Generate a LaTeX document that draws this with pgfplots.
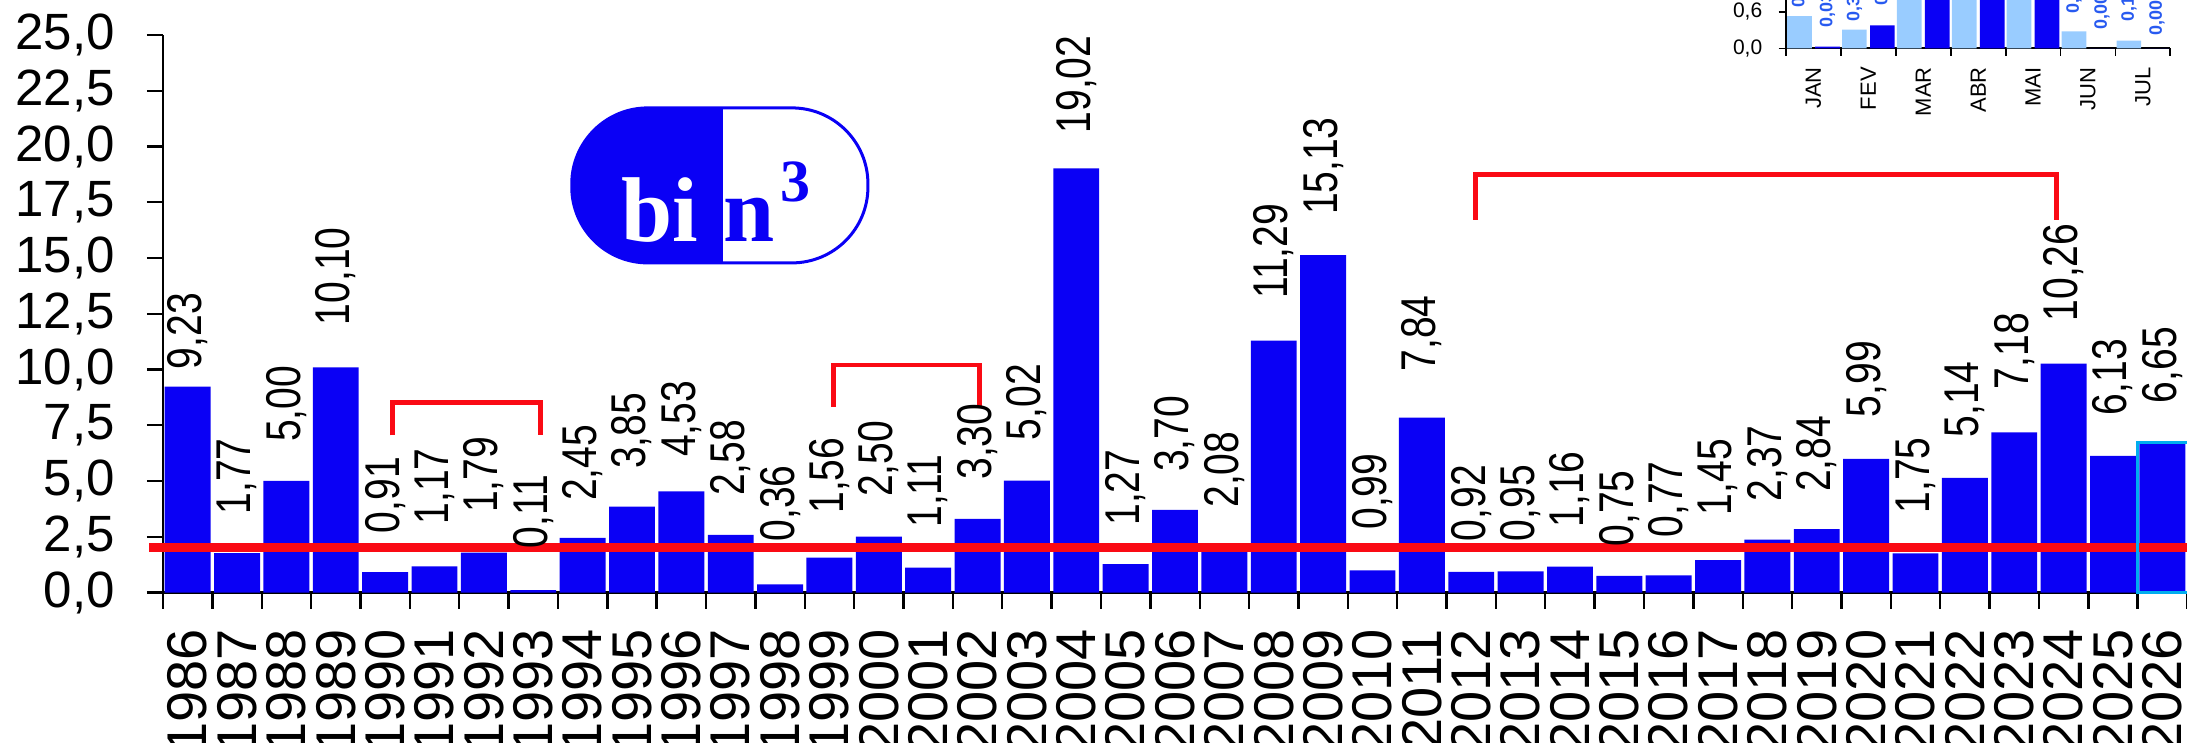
\documentclass[border=0pt]{standalone}
\usepackage{pgfplots}
\pgfplotsset{compat=1.18}
\usepackage{pgfplotstable}
\usepackage{fontspec}
\setmainfont{Liberation Sans}
\newfontfamily\narrowfont[FakeStretch=0.8]{Liberation Sans}
\newfontfamily\logofont{Liberation Serif}

\definecolor{barblue}{RGB}{10,0,245}
\definecolor{lightbar}{RGB}{153,204,255}
\definecolor{linered}{RGB}{250,10,20}
\definecolor{lblblue}{RGB}{40,90,240}

% x = year index (1986 = 0), ly = where the label starts, v = value
\pgfplotstableread{
x  ly    v
0  10.00 9.23
1  3.48  1.77
2  6.74  5.00
3  11.97 10.10
4  2.65  0.91
5  3.03  1.17
6  3.56  1.79
7  1.97  0.11
8  4.09  2.45
9  5.53  3.85
10 6.06  4.53
11 4.32  2.58
12 2.27  0.36
13 3.52  1.56
14 4.27  2.50
15 2.89  1.11
16 5.04  3.30
17 6.82  5.02
18 20.57 19.02
19 2.98  1.27
20 5.39  3.70
21 3.79  2.08
22 13.16 11.29
23 16.91 15.13
24 2.80  0.99
25 9.90  7.84
26 2.28  0.92
27 2.28  0.95
28 2.90  1.16
29 2.05  0.75
30 2.45  0.77
31 3.45  1.45
32 4.07  2.37
33 4.50  2.84
34 7.84  5.99
35 3.53  1.75
36 6.94  5.14
37 9.10  7.18
38 12.14 10.26
39 7.93  6.13
40 8.47  6.65
}\yearly

% inset: months, two series
\pgfplotstableread{
x a    b
0 0.53 0.03
1 0.31 0.38
2 1.00 1.00
3 1.00 1.00
4 1.00 1.00
5 0.28 0.00
6 0.13 0.00
}\monthly

\pgfplotstableread{
x      ly   v
-0.255 0.66 0.53
0.255  0.34 0.03
0.745  0.44 0.31
1.255  0.70 0.38
4.745  0.57 0.28
5.255  0.31 0.00
5.745  0.44 0.13
6.255  0.21 0.00
}\monthlbl

\begin{document}
\begin{tikzpicture}
\begin{axis}[
  x=24.683pt, y=11.15pt,
  xmin=-0.5, xmax=40.5, ymin=0, ymax=25,
  axis x line=bottom, axis y line=left,
  axis line style={-, line width=1.3pt},
  clip=false,
  tick style={black, line width=1.2pt},
  tick align=outside,
  major tick length=8pt,
  xtick={-0.5,0.5,...,40.5}, xticklabels={},
  extra x ticks={0,1,...,40},
  extra x tick labels={1986,1987,1988,1989,1990,1991,1992,1993,1994,1995,1996,1997,1998,1999,2000,2001,2002,2003,2004,2005,2006,2007,2008,2009,2010,2011,2012,2013,2014,2015,2016,2017,2018,2019,2020,2021,2022,2023,2024,2025,2026},
  extra x tick style={major tick length=0pt,
    xticklabel style={yshift=-18pt, rotate=90, anchor=east, inner sep=0pt,
      font=\fontsize{28}{28}\selectfont}},
  ytick={0,2.5,...,25},
  yticklabel style={/pgf/number format/.cd, fixed, fixed zerofill, precision=1,
    use comma, assume math mode=true, /tikz/.cd,
    anchor=east, inner xsep=0pt, xshift=-16pt,
    font=\fontsize{25.5}{26}\selectfont},
]
\addplot[ybar, bar width=0.93, fill=barblue, draw=none] table[x=x, y=v] {\yearly};

\addplot[draw=none, mark=none, point meta=explicit,
  nodes near coords={\pgfmathprintnumber[fixed, fixed zerofill, precision=2, use comma, assume math mode=true]{\pgfplotspointmeta}},
  every node near coord/.append style={rotate=90, anchor=west, inner sep=0pt,
    text=black, font=\narrowfont\fontsize{24.4}{25}\selectfont}]
  table[x=x, y=ly, meta=v] {\yearly};

% reference line and brackets
\draw[linered, line width=4.5pt] (axis cs:-0.78,2) -- (axis cs:40.7,2);
\draw[linered, line width=2.4pt] (axis cs:4.15,7.05) -- (axis cs:4.15,8.53) -- (axis cs:7.15,8.53) -- (axis cs:7.15,7.05);
\draw[linered, line width=2.4pt] (axis cs:13.09,8.34) -- (axis cs:13.09,10.2) -- (axis cs:16.04,10.2) -- (axis cs:16.04,8.34);
\draw[linered, line width=2.4pt] (axis cs:26.08,16.72) -- (axis cs:26.08,18.74) -- (axis cs:37.86,18.74) -- (axis cs:37.86,16.72);

% current year
\draw[cyan, line width=1.4pt] (axis cs:39.5,0) rectangle (axis cs:40.7,6.72);

% logo
\draw[barblue, line width=1.5pt, fill=white, rounded corners=38pt] (axis cs:7.78,14.78) rectangle (axis cs:13.78,21.73);
\begin{scope}
  \clip (axis cs:7.5,14) rectangle (axis cs:10.84,22.5);
  \fill[barblue, rounded corners=38pt] (axis cs:7.78,14.78) rectangle (axis cs:13.78,21.73);
\end{scope}
\node[anchor=base west, inner sep=0pt, text=white, font=\logofont\bfseries\fontsize{46}{46}\selectfont] at (axis cs:8.78,15.73) {bi};
\node[anchor=base west, inner sep=0pt, text=barblue, font=\logofont\bfseries\fontsize{46}{46}\selectfont] at (axis cs:10.84,15.73) {n};
\node[anchor=base west, inner sep=0pt, text=barblue, font=\logofont\bfseries\fontsize{30}{30}\selectfont] at (axis cs:12.0,17.52) {3};
\end{axis}

% inset (monthly)
\begin{axis}[
  at={(811.5pt,272pt)}, anchor=south west,
  x=27.45pt, y=30.5pt,
  xmin=-0.5, xmax=6.5, ymin=0, ymax=1.3,
  axis x line=bottom, axis y line=left,
  axis line style={-, line width=1pt},
  tick style={black, line width=0.9pt},
  tick align=outside,
  major tick length=3.7pt,
  xtick={-0.5,0.5,...,6.5}, xticklabels={},
  extra x ticks={0,1,...,6},
  extra x tick labels={JAN,FEV,MAR,ABR,MAI,JUN,JUL},
  extra x tick style={major tick length=0pt,
    xticklabel style={yshift=-9.2pt, rotate=90, anchor=east, inner sep=0pt,
      font=\fontsize{11}{11}\selectfont}},
  ytick={0,0.6,1.2},
  yticklabel style={/pgf/number format/.cd, fixed, fixed zerofill, precision=1,
    use comma, assume math mode=true, /tikz/.cd,
    anchor=east, inner xsep=0pt, xshift=-8pt,
    font=\fontsize{10.5}{11}\selectfont},
]
\addplot[ybar, bar width=0.45, bar shift=-0.255, fill=lightbar, draw=none] table[x=x, y=a] {\monthly};
\addplot[ybar, bar width=0.45, bar shift=0.255, fill=barblue, draw=none] table[x=x, y=b] {\monthly};
\addplot[draw=none, mark=none, point meta=explicit, clip=false,
  nodes near coords={\pgfmathprintnumber[fixed, fixed zerofill, precision=2, use comma, assume math mode=true]{\pgfplotspointmeta}},
  every node near coord/.append style={rotate=90, anchor=west, inner sep=0pt,
    text=lblblue, font=\bfseries\fontsize{9}{9}\selectfont}]
  table[x=x, y=ly, meta=v] {\monthlbl};
\end{axis}

\pgfresetboundingbox
\useasboundingbox (-81.5pt,-75.25pt) rectangle (1012pt,296.25pt);
\end{tikzpicture}
\end{document}
